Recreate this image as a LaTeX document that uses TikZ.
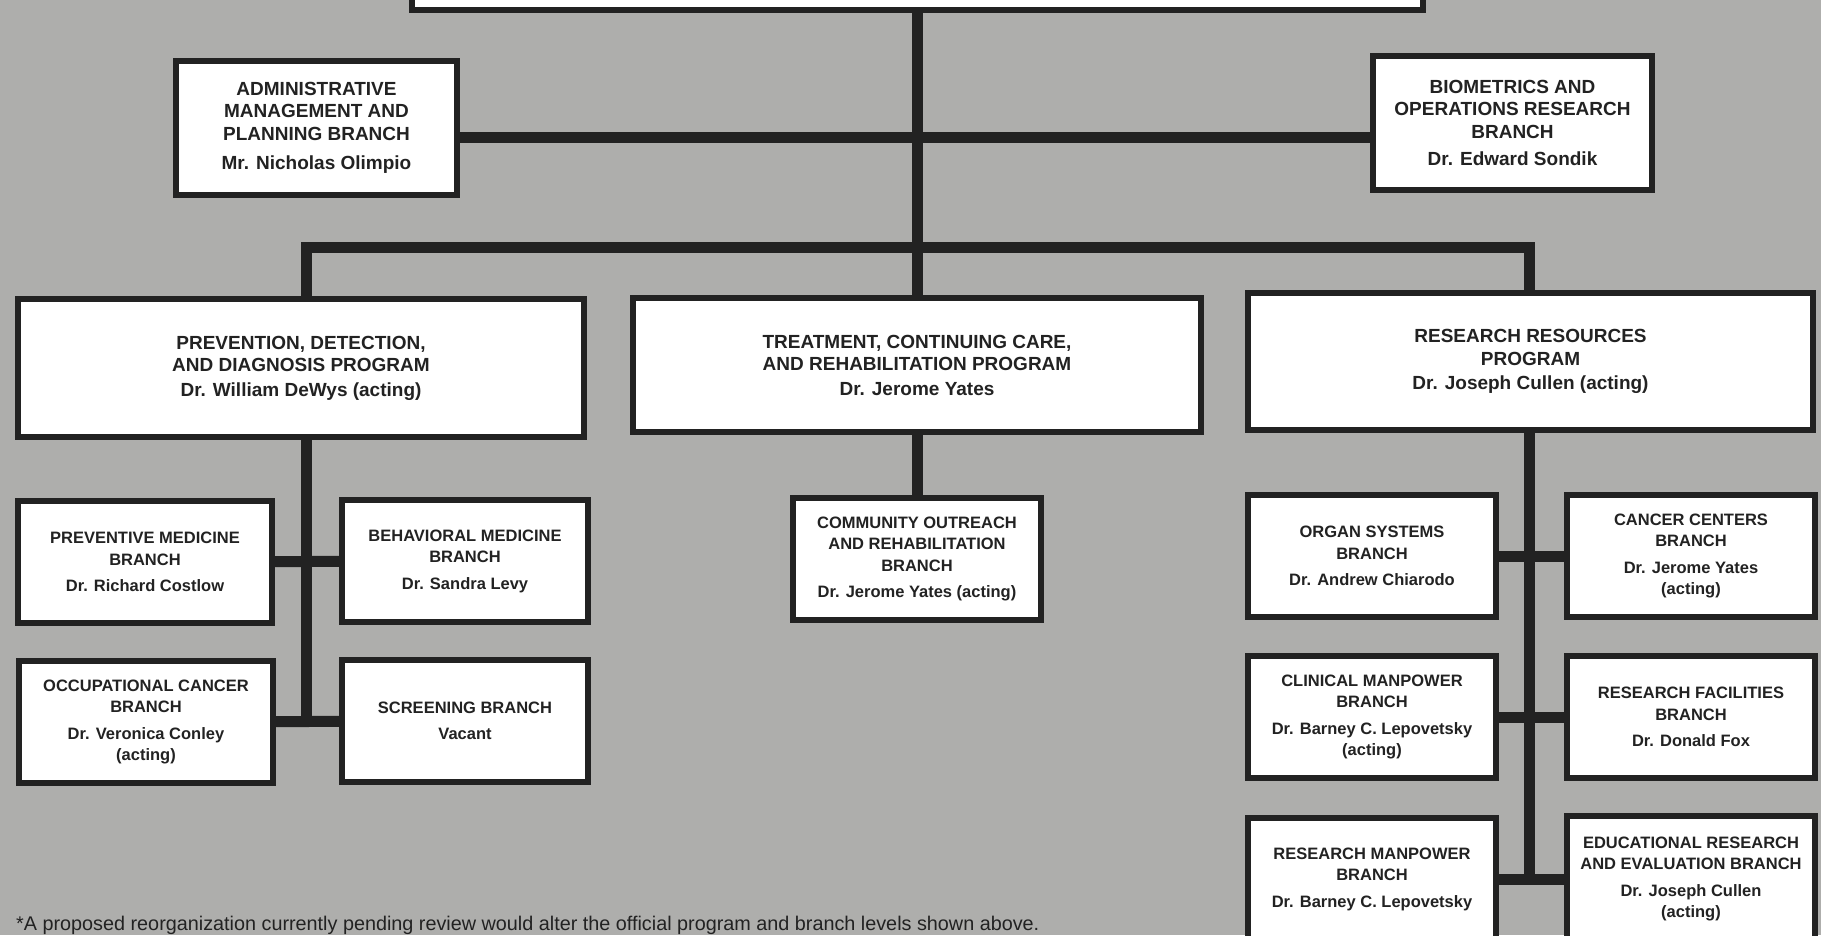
\documentclass[tikz,border=0pt]{standalone}
\usepackage{fontspec}
\setmainfont{Liberation Sans}
\usepackage{xcolor}
\usepackage{tikz}
\usetikzlibrary{positioning}
\usetikzlibrary{backgrounds}
\definecolor{paper}{RGB}{174,174,172}
\definecolor{ink}{RGB}{34,34,34}

\begin{document}
\begin{tikzpicture}
  [x=1pt, y=-1pt,
   office/.style = {draw=ink, line width=6pt, fill=white, align=center, text=ink, inner sep=0pt},
   prog/.style = {office, font=\bfseries\fontsize{19}{22.5}\selectfont},
   branch/.style = {office, font=\bfseries\fontsize{16.5}{21.5}\selectfont, minimum width=248pt, minimum height=122pt},
   link/.style = {draw=ink, line width=11pt, line join=miter}]
  \useasboundingbox (0,0) rectangle (1821,935);
  % Director's office (cut off at the top)
  \node[prog, minimum width=1011pt, minimum height=60pt] (director) at (917,-20) {};
  % Staff branches
  \node[prog, minimum width=281pt, minimum height=134pt] (admin) at (316.5,128) {ADMINISTRATIVE\\MANAGEMENT AND\\PLANNING BRANCH\\[7pt]Mr. Nicholas Olimpio};
  \node[prog, minimum width=279pt, minimum height=134pt] (biometrics) at (1512.5,123) {BIOMETRICS AND\\OPERATIONS RESEARCH\\BRANCH\\[5pt]Dr. Edward Sondik};
  % Programs
  \node[prog, minimum width=566pt, minimum height=138pt] (pdd) at (301,368) {PREVENTION, DETECTION,\\AND DIAGNOSIS PROGRAM\\[2pt]Dr. William DeWys (acting)};
  \node[prog, minimum width=568pt, minimum height=134pt] (tcr) at (917,365) {TREATMENT, CONTINUING CARE,\\AND REHABILITATION PROGRAM\\[2pt]Dr. Jerome Yates};
  \node[prog, minimum width=565pt, minimum height=137pt] (rr) at (1530.5,361.5) {RESEARCH RESOURCES\\PROGRAM\\[2pt]Dr. Joseph Cullen (acting)};
  % Branches under each program
  \node[branch, minimum width=254pt] (prevmed) at (145,562) {PREVENTIVE MEDICINE\\BRANCH\\[5pt]Dr. Richard Costlow};
  \node[branch, minimum width=246pt] (behav) at (465,561) {BEHAVIORAL MEDICINE\\BRANCH\\[5pt]Dr. Sandra Levy};
  \node[branch, minimum width=254pt] (occup) at (146,722) {OCCUPATIONAL CANCER\\BRANCH\\[5pt]Dr. Veronica Conley\\(acting)};
  \node[branch, minimum width=246pt] (screen) at (465,721) {SCREENING BRANCH\\[5pt]Vacant};
  \node[branch] (outreach) at (917,559) {COMMUNITY OUTREACH\\AND REHABILITATION\\BRANCH\\[5pt]Dr. Jerome Yates (acting)};
  \node[branch] (organ) at (1372,556) {ORGAN SYSTEMS\\BRANCH\\[5pt]Dr. Andrew Chiarodo};
  \node[branch] (centers) at (1691,556) {CANCER CENTERS\\BRANCH\\[5pt]Dr. Jerome Yates\\(acting)};
  \node[branch] (clinical) at (1372,717) {CLINICAL MANPOWER\\BRANCH\\[5pt]Dr. Barney C. Lepovetsky\\(acting)};
  \node[branch] (facilities) at (1691,717) {RESEARCH FACILITIES\\BRANCH\\[5pt]Dr. Donald Fox};
  \node[branch] (resman) at (1372,879) {RESEARCH MANPOWER\\BRANCH\\[5pt]Dr. Barney C. Lepovetsky};
  \node[branch, minimum height=127pt] (educ) at (1691,879) {EDUCATIONAL RESEARCH\\AND EVALUATION BRANCH\\[5pt]Dr. Joseph Cullen\\(acting)};
  % Footnote
  \node[anchor=base west, inner sep=0pt, text=ink, font=\fontsize{19.8}{21}\selectfont] (note) at (16,930) {*A proposed reorganization currently pending review would alter the official program and branch levels shown above.};
  % Bus points
  \coordinate (staff) at (917,137);
  \coordinate (pddbus) at (306,247);
  \coordinate (rrbus) at (1529,247);
  \begin{scope}[on background layer]
    \fill[paper] (0,0) rectangle (1821,935);
    % Lines
    \path[link] (director) edge (tcr);
    \path[link] (admin |- staff) edge (biometrics |- staff);
    \draw[link] (pddbus |- occup) -- (pddbus) -- (rrbus) -- (rrbus |- resman);
    \path[link] (tcr) edge (outreach);
    \path[link] (prevmed) edge (behav);
    \path[link] (occup) edge (screen);
    \path[link] (organ) edge (centers);
    \path[link] (clinical) edge (facilities);
    \path[link] (resman) edge (educ);
  \end{scope}
\end{tikzpicture}
\end{document}
